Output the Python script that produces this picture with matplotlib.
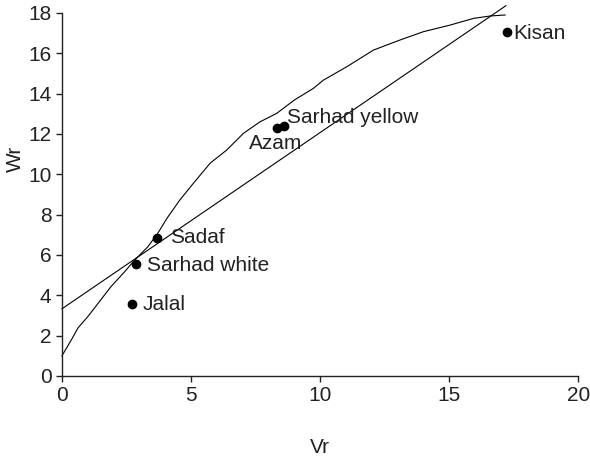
import matplotlib
matplotlib.use("Agg")
import matplotlib.pyplot as plt

plt.rcParams['font.family'] = ['Liberation Sans', 'DejaVu Sans']

# Genotype points (Vr, Wr)
names = ["Kisan", "Sarhad yellow", "Azam", "Sadaf", "Sarhad white", "Jalal"]
vr = [17.25, 8.6, 8.33, 3.68, 2.87, 2.71]
wr = [17.05, 12.38, 12.28, 6.84, 5.55, 3.57]
# label offsets in points
label_dx = [4.3, 2.5, -20.5, 9.4, 7.9, 7.9]
label_dy = [-0.7, 6.5, -10.8, 0.7, -0.7, -0.7]

# Regression line endpoints
line_x = [0.0, 17.2]
line_y = [3.33, 18.36]

# Limiting curve
curve_x = [0.0, 0.36, 0.62, 1.0, 1.4, 1.9, 2.43, 2.82, 3.33, 3.72, 4.07, 4.57,
           5.09, 5.74, 6.38, 7.03, 7.67, 8.32, 9.0, 9.74, 10.13, 11.03, 12.07,
           13.1, 14.0, 15.04, 15.94, 16.59, 17.17]
curve_y = [1.0, 1.78, 2.38, 2.94, 3.6, 4.43, 5.17, 5.75, 6.41, 7.09, 7.82, 8.73,
           9.55, 10.55, 11.2, 12.03, 12.6, 13.02, 13.68, 14.26, 14.67, 15.33, 16.16,
           16.66, 17.07, 17.4, 17.73, 17.85, 17.9]

xticks = [0, 5, 10, 15, 20]
yticks = [0, 2, 4, 6, 8, 10, 12, 14, 16, 18]

fig = plt.figure(figsize=(5.9, 4.63), dpi=100)
ax = fig.add_axes([0.105, 0.188, 0.875, 0.784])

ax.plot(curve_x, curve_y, color='black', lw=0.8, clip_on=False)
ax.plot(line_x, line_y, color='black', lw=0.8, clip_on=False)
ax.plot(vr, wr, 'o', color='black', ms=6, clip_on=False)

for n, x, y, dx, dy in zip(names, vr, wr, label_dx, label_dy):
    ax.annotate(n, (x, y), xytext=(dx, dy), textcoords='offset points',
                ha='left', va='center', fontsize=15, color='#222222')

ax.set_xlim(0, 20)
ax.set_ylim(0, 18)
ax.set_xticks(xticks)
ax.set_yticks(yticks)
ax.tick_params(labelsize=15, direction='out', length=4, width=1, colors='#222222')
for s in ['top', 'right']:
    ax.spines[s].set_visible(False)
for s in ['left', 'bottom']:
    ax.spines[s].set_linewidth(1)
    ax.spines[s].set_color('#222222')

ax.set_xlabel('Vr', fontsize=15, color='#222222')
ax.set_ylabel('Wr', fontsize=15, color='#222222')
ax.xaxis.set_label_coords(0.5, -0.17)
ax.yaxis.set_label_coords(-0.071, 0.598)

fig.savefig('out.png', dpi=100)
